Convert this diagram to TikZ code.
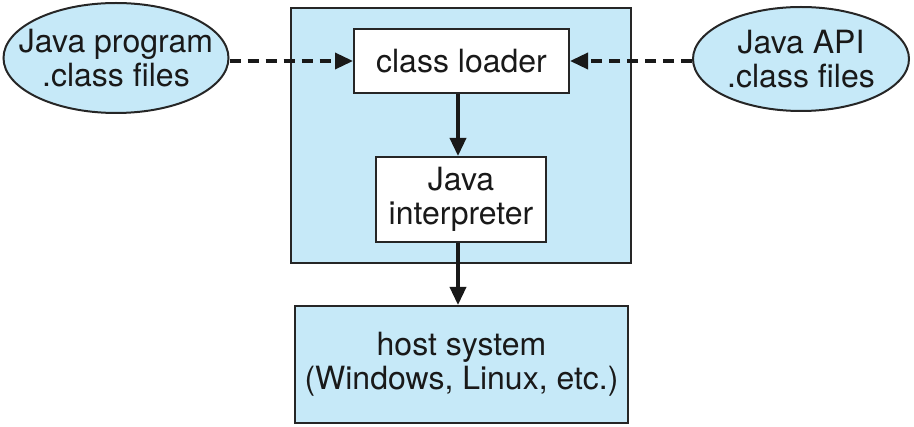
\documentclass[tikz,border=0pt]{standalone}
\usepackage{fontspec}
\setmainfont{TeX Gyre Heros}
\usetikzlibrary{arrows.meta,shapes.geometric}
\definecolor{jblue}{HTML}{C6E9F8}
\begin{document}
\begin{tikzpicture}[x=1pt,y=-1pt,
  lbl/.style={font=\fontsize{32}{34}\selectfont, align=center, text=black!90},
  bluebox/.style={draw=black!85, line width=2pt, fill=jblue},
  whitebox/.style={draw=black!85, line width=2pt, fill=white},
  blueell/.style={ellipse, draw=black!85, line width=2pt, fill=jblue, inner sep=0pt},
  arr/.style={line width=3.5pt, draw=black!90, -{Triangle[length=18pt,width=16pt]}},
  darr/.style={arr, dash pattern=on 11pt off 7pt}
]
\useasboundingbox (0,0) rectangle (914,427);
% JVM box
\node[bluebox, minimum width=340pt, minimum height=255pt, anchor=north west] (jvm) at (290,7) {};
% class loader
\node[whitebox, lbl, minimum width=215pt, minimum height=64pt, anchor=north west] (cl) at (353,28) {class loader};
% interpreter
\node[whitebox, lbl, minimum width=170pt, minimum height=85pt, anchor=north west] (ji) at (375,156) {Java\\interpreter};
% host
\node[bluebox, lbl, minimum width=333pt, minimum height=117pt, anchor=north west] (hs) at (294,305) {host system\\(Windows, Linux, etc.)};
% ellipses
\node[blueell, minimum width=225pt, minimum height=110pt] (jp) at (116,58) {};
\node[lbl] (jptext) at (jp.center) {Java program\\.class files};
\node[blueell, minimum width=216pt, minimum height=104pt] (api) at (801,59) {};
\node[lbl] (apitext) at (api.center) {Java API\\.class files};
% arrows
\draw[darr] (jp.east |- 0,61) -- (cl.west |- 0,61);
\draw[darr] (api.west |- 0,61) -- (cl.east |- 0,61);
\draw[arr] (cl.south -| 458,0) -- (ji.north -| 458,0);
\draw[arr] (ji.south -| 458,0) -- (hs.north -| 458,0);
\end{tikzpicture}
\end{document}
